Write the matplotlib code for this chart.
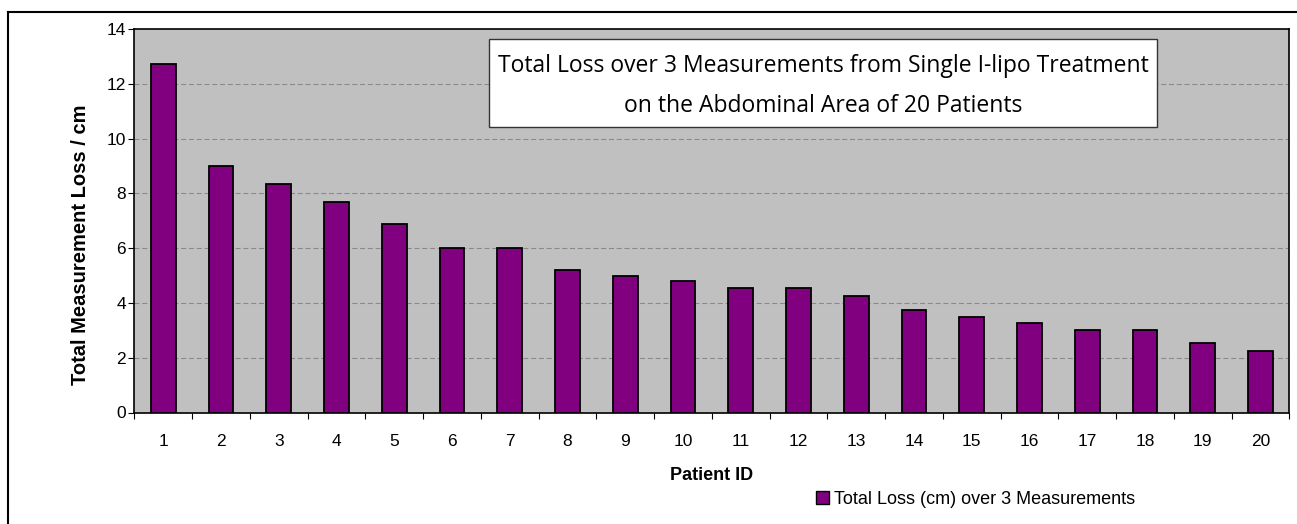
import matplotlib
matplotlib.use("Agg")
import matplotlib.pyplot as plt
from matplotlib.patches import Rectangle, Patch
from matplotlib.lines import Line2D
import numpy as np

patient_ids = [str(i) for i in range(1, 21)]
total_loss = [12.73, 9.0, 8.33, 7.7, 6.88, 6.0, 6.0, 5.2, 5.0, 4.8,
              4.55, 4.55, 4.25, 3.75, 3.5, 3.25, 3.0, 3.0, 2.55, 2.25]
y_ticks = [0, 2, 4, 6, 8, 10, 12, 14]

title_lines = ["Total Loss over 3 Measurements from Single I-lipo Treatment",
               "on the Abdominal Area of 20 Patients"]
legend_label = "Total Loss (cm) over 3 Measurements"

W, H = 1297, 524
fig = plt.figure(figsize=(W / 100, H / 100), dpi=100)
fig.patch.set_facecolor("white")

def fx(px):
    return px / W

def fy(py):
    return 1 - py / H

# outer chart frame
fig.add_artist(Line2D([fx(8), fx(8)], [fy(12), 0], color="black", lw=1.5, transform=fig.transFigure))
fig.add_artist(Line2D([fx(8), 1], [fy(12), fy(12)], color="black", lw=1.5, transform=fig.transFigure))

left, right, top, bottom = 134.3, 1289.3, 29, 412.5
ax = fig.add_axes([fx(left), fy(bottom), fx(right - left), (bottom - top) / H])
ax.set_facecolor("#C0C0C0")

x = np.arange(1, len(total_loss) + 1)
ax.bar(x, total_loss, width=0.43, color="#800080", edgecolor="black", linewidth=1.3, zorder=3)

tick_font = {"family": "Liberation Sans", "size": 12.5}
ax.set_xlim(0.5, len(total_loss) + 0.5)
ax.set_ylim(0, 14)
ax.set_yticks(y_ticks)
ax.set_yticklabels([str(v) for v in y_ticks], fontdict=tick_font)
ax.set_xticks(x)
ax.set_xticklabels(patient_ids, fontdict=tick_font)
ax.set_xticks(np.arange(0.5, len(total_loss) + 1), minor=True)
ax.tick_params(axis="x", which="major", length=0, pad=15.5)
ax.tick_params(axis="x", which="minor", length=4.5, width=0.8, direction="out")
ax.tick_params(axis="y", length=4, width=0.8, direction="out", pad=2)

for yv in y_ticks[1:-1]:
    ax.axhline(yv, color="#8A8A8A", lw=0.8, linestyle=(0, (4.5, 2.5)), zorder=1)

for s in ax.spines.values():
    s.set_color("black")
    s.set_linewidth(1.2)

ax.set_xlabel("Patient ID", fontsize=13, fontweight="bold", family="Liberation Sans")
ax.xaxis.set_label_coords(0.5, -(475 - bottom) / (bottom - top))
ax.xaxis.label.set_va("center")
ax.set_ylabel("Total Measurement Loss / cm", fontsize=14.5, fontweight="bold", family="Liberation Sans")
ax.yaxis.set_label_coords(-(left - 81) / (right - left), (bottom - 245) / (bottom - top))
ax.yaxis.label.set_va("center")

# title box
bx0, bx1, by0, by1 = 489, 1157, 39, 127
fig.add_artist(Rectangle((fx(bx0), fy(by1)), fx(bx1 - bx0), (by1 - by0) / H,
                         facecolor="white", edgecolor="#333333", lw=1.0,
                         transform=fig.transFigure, zorder=5))
cx = fx((bx0 + bx1) / 2)
fig.text(cx, fy(72), title_lines[0], ha="center", va="baseline",
         fontsize=16.5, family="Open Sans", zorder=6)
fig.text(cx, fy(112), title_lines[1], ha="center", va="baseline",
         fontsize=16.5, family="Open Sans", zorder=6)

handle = Patch(facecolor="#800080", edgecolor="black", linewidth=1.0)
fig.legend([handle], [legend_label], loc="center left",
           bbox_to_anchor=(fx(816), fy(499)), frameon=False,
           prop={"family": "Liberation Sans", "size": 13},
           handlelength=0.7, handleheight=0.7, handletextpad=0.3, borderpad=0, borderaxespad=0)

fig.savefig("out.png", dpi=100)
